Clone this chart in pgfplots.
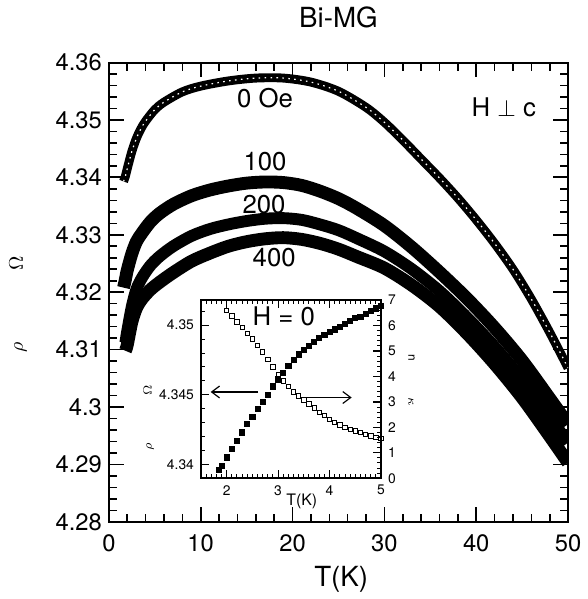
\documentclass[border=0pt]{standalone}
\usepackage{fontspec}
\setmainfont{TeX Gyre Heros}
\usepackage{pgfplots}
\pgfplotsset{compat=1.18}
\usetikzlibrary{arrows.meta}

\pgfplotstableread{
T rho
1.6 4.3393
1.8 4.3402
2.0 4.3415
2.5 4.3445
3.0 4.3468
3.5 4.3485
4.0 4.3498
5.0 4.3518
6.0 4.3531
8.0 4.3549
10 4.3559
13 4.3568
16 4.3573
19 4.3573
22 4.3566
25 4.3550
28 4.3522
30 4.3496
32 4.3465
34 4.3432
36 4.3399
38 4.3364
40 4.3326
42 4.3285
44 4.3240
46 4.3188
48 4.3130
50 4.3068
}\zeroOe

\pgfplotstableread{
T rho
1.6 4.3208
1.8 4.3222
2.0 4.3238
2.5 4.3267
3.0 4.3288
3.6 4.3303
4.5 4.3322
5.5 4.3337
7 4.3353
9 4.3368
11 4.3378
13 4.3385
15 4.3390
17 4.3392
19 4.3391
21 4.3386
23 4.3376
25 4.3363
27 4.3346
30 4.3316
33 4.3278
36 4.3235
39 4.3189
42 4.3138
45 4.3081
48 4.3015
50 4.2970
}\hundred

\pgfplotstableread{
T h200 h400
1.8 4.3112 4.3098
2.0 4.3132 4.3108
2.5 4.3175 4.3148
3.0 4.3205 4.3172
3.6 4.3225 4.3188
4.5 4.3246 4.3204
5.5 4.3262 4.3217
7 4.3280 4.3234
9 4.3298 4.3254
11 4.3310 4.3268
13 4.3318 4.3280
15 4.3324 4.3288
17 4.3328 4.3293
19 4.3329 4.3295
21 4.3326 4.3292
23 4.3318 4.3285
25 4.3308 4.3275
27 4.3294 4.3262
30 4.3271 4.3242
33 4.3240 4.3212
36 4.3202 4.3175
39 4.3156 4.3128
42 4.3105 4.3075
45 4.3048 4.3016
48 4.2982 4.2949
50 4.2938 4.2903
}\fields

\pgfplotstableread{
T rho
1.85 4.3396
1.9 4.3399
2.0 4.3405
2.1 4.3411
2.2 4.3417
2.3 4.3423
2.4 4.3429
2.5 4.3434
2.6 4.3440
2.7 4.3445
2.8 4.3450
2.9 4.3456
3.0 4.3461
3.1 4.3466
3.2 4.3471
3.3 4.3475
3.4 4.3479
3.5 4.3482
3.6 4.3485
3.7 4.3488
3.8 4.3491
3.9 4.3493
4.0 4.3495
4.1 4.3497
4.2 4.3499
4.3 4.3501
4.4 4.3503
4.5 4.3505
4.6 4.3506
4.7 4.3508
4.8 4.3510
4.9 4.3512
5.0 4.3514
}\insetrho

\pgfplotstableread{
T r
2.0 6.60
2.1 6.38
2.2 6.15
2.3 5.92
2.4 5.70
2.5 5.47
2.6 5.23
2.7 4.97
2.8 4.68
2.9 4.38
3.0 4.06
3.1 3.82
3.2 3.60
3.3 3.40
3.4 3.23
3.5 3.08
3.6 2.92
3.7 2.76
3.8 2.60
3.9 2.46
4.0 2.32
4.1 2.20
4.2 2.10
4.3 2.01
4.4 1.93
4.5 1.86
4.6 1.79
4.7 1.72
4.8 1.66
4.9 1.61
5.0 1.56
}\insetright

\begin{document}
\begin{tikzpicture}
\path (-55pt,-39pt) rectangle (238.5pt,260.5pt);
\begin{axis}[
  name=main, at={(0pt,0pt)}, anchor=south west,
  scale only axis, width=232pt, height=232pt,
  xmin=0, xmax=50, ymin=4.28, ymax=4.36,
  xtick={0,10,20,30,40,50},
  ytick={4.28,4.29,4.30,4.31,4.32,4.33,4.34,4.35,4.36},
  major tick length=0pt,
  axis line style={line width=1pt},
  tick label style={font=\fontsize{12}{14}\selectfont},
  /pgf/number format/assume math mode=true,
  yticklabel style={/pgf/number format/precision=2},
  xticklabel style={yshift=-3pt},
  title={Bi-MG},
  title style={font=\fontsize{14}{16}\selectfont, at={(axis description cs:0.5,1.073)}, anchor=center},
  xlabel={T(K)},
  xlabel style={font=\fontsize{14}{16}\selectfont, at={(axis description cs:0.506,-0.125)}, anchor=center},
  ylabel={$\rho$\hspace{36pt}$\Omega$},
  ylabel style={font=\fontsize{10}{12}\selectfont, at={(axis description cs:-0.198,0.474)}, anchor=center},
  clip=true,
]
\addplot[black, line width=4.5pt, smooth] table[x=T, y=rho] {\zeroOe};
\addplot[white, line width=0.6pt, smooth, dash pattern=on 0.8pt off 2.2pt] table[x=T, y=rho] {\zeroOe};
\addplot[black, line width=6.5pt, smooth] table[x=T, y=rho] {\hundred};
\addplot[black, line width=6pt, smooth] table[x=T, y=h200] {\fields};
\addplot[black, line width=6.5pt, smooth] table[x=T, y=h400] {\fields};

\node[font=\fontsize{13}{15}\selectfont] at (axis cs:17.0,4.3538) {0 Oe};
\node[font=\fontsize{13}{15}\selectfont] at (axis cs:17.0,4.3428) {100};
\node[font=\fontsize{13}{15}\selectfont] at (axis cs:16.9,4.3353) {200};
\node[font=\fontsize{13}{15}\selectfont] at (axis cs:18.0,4.3260) {400};
\node[font=\fontsize{13}{15}\selectfont] at (axis cs:43.0,4.3522) {H $\perp$ c};
\end{axis}

% main axis ticks (frame is 232pt x 232pt at the origin)
\foreach \i in {1,...,24} {
  \draw[line width=0.8pt] (\i*9.28pt,0pt) -- ++(0pt,4pt);
  \draw[line width=0.8pt] (\i*9.28pt,232pt) -- ++(0pt,-4pt);
}
\foreach \i in {1,...,4} {
  \draw[line width=0.9pt] (\i*46.4pt,0pt) -- ++(0pt,7.5pt);
  \draw[line width=0.9pt] (\i*46.4pt,232pt) -- ++(0pt,-7.5pt);
}
\foreach \i in {1,...,39} {
  \draw[line width=0.8pt] (0pt,\i*5.8pt) -- ++(4pt,0pt);
  \draw[line width=0.8pt] (232pt,\i*5.8pt) -- ++(-4pt,0pt);
}
\foreach \i in {1,...,7} {
  \draw[line width=0.9pt] (0pt,\i*29pt) -- ++(7.5pt,0pt);
  \draw[line width=0.9pt] (232pt,\i*29pt) -- ++(-7.5pt,0pt);
}

\begin{axis}[
  at={(46.5pt,22pt)}, anchor=south west,
  scale only axis, width=91pt, height=90pt,
  xmin=1.5, xmax=5, ymin=4.339, ymax=4.3518,
  xtick={2,3,4,5},
  ytick={4.34,4.345,4.35},
  ytick pos=left,
  major tick length=0pt,
  axis line style={line width=0.9pt},
  axis background/.style={fill=white},
  tick label style={font=\fontsize{7}{8}\selectfont},
  /pgf/number format/assume math mode=true,
  yticklabel style={/pgf/number format/precision=3},
  xlabel={T(K)},
  xlabel style={font=\fontsize{8}{9}\selectfont, at={(axis description cs:0.56,-0.128)}, anchor=center},
  ylabel={$\rho$\hspace{24pt}$\Omega$},
  ylabel style={font=\fontsize{6}{7}\selectfont, at={(axis description cs:-0.29,0.34)}, anchor=center},
  clip=false,
]
\addplot[only marks, mark=square*, mark size=1.3pt, black] table[x=T, y=rho] {\insetrho};
\node[font=\fontsize{13}{15}\selectfont] at (axis cs:3.11,4.3506) {H = 0};
\draw[-{Straight Barb[length=4pt,width=6pt]}, line width=0.6pt] (axis cs:2.61,4.3452) -- (axis cs:1.69,4.3452);
\draw[-{Straight Barb[length=4pt,width=6pt]}, line width=0.6pt] (axis cs:3.51,4.3448) -- (axis cs:4.43,4.3448);
\end{axis}

\begin{axis}[
  at={(46.5pt,22pt)}, anchor=south west,
  scale only axis, width=91pt, height=90pt,
  xmin=1.5, xmax=5, ymin=0, ymax=7,
  axis x line=none, axis y line*=right,
  ytick={0,1,2,3,4,5,6,7},
  major tick length=0pt,
  axis line style={line width=0.9pt},
  tick label style={font=\fontsize{7}{8}\selectfont},
  /pgf/number format/assume math mode=true,
  ylabel={n\hspace{18pt}$\kappa$},
  ylabel style={font=\fontsize{6}{7}\selectfont, at={(axis description cs:1.17,0.55)}, anchor=center, rotate=180},
]
\addplot[only marks, mark=square, mark size=1.1pt, black, line width=0.4pt] table[x=T, y=r] {\insetright};
\end{axis}

% inset ticks (frame 91pt x 90pt at (46.5pt,22pt))
\begin{scope}[shift={(46.5pt,22pt)}]
\foreach \i in {1,...,34} {
  \draw[line width=0.5pt] (\i*2.6pt,0pt) -- ++(0pt,2pt);
  \draw[line width=0.5pt] (\i*2.6pt,90pt) -- ++(0pt,-2pt);
}
\foreach \x in {13,39,65} {
  \draw[line width=0.6pt] (\x pt,0pt) -- ++(0pt,4pt);
  \draw[line width=0.6pt] (\x pt,90pt) -- ++(0pt,-4pt);
}
\foreach \i in {1,...,12} {
  \draw[line width=0.5pt] (0pt,\i*7.03125pt) -- ++(2pt,0pt);
}
\foreach \i in {1,6,11} {
  \draw[line width=0.6pt] (0pt,\i*7.03125pt) -- ++(4pt,0pt);
}
\foreach \i in {1,...,34} {
  \draw[line width=0.5pt] (91pt,\i*2.5714pt) -- ++(-2pt,0pt);
}
\foreach \i in {1,...,6} {
  \draw[line width=0.6pt] (91pt,\i*12.857pt) -- ++(-4pt,0pt);
}
\end{scope}
\end{tikzpicture}
\end{document}
